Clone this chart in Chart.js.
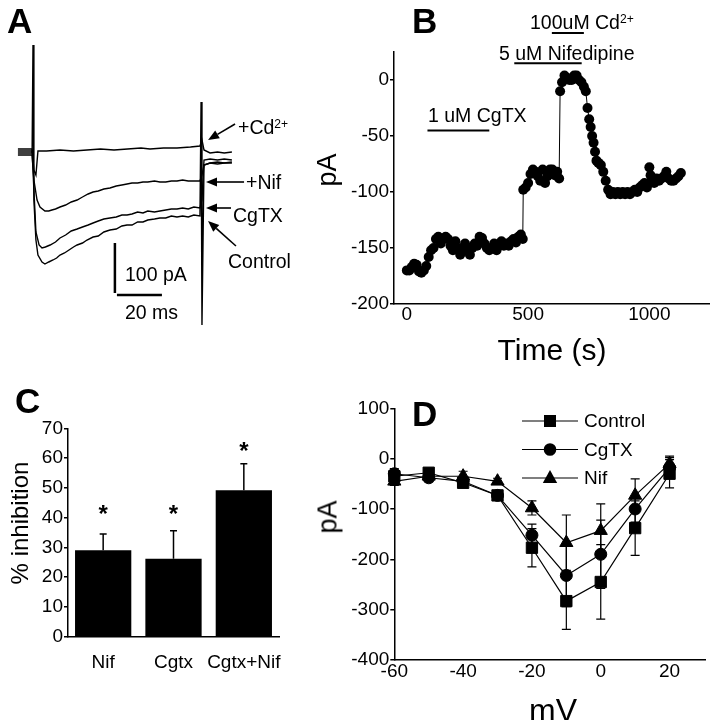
<!DOCTYPE html>
<html>
<head>
<meta charset="utf-8">
<title>Ca2+ current block</title>
<script src="https://cdn.jsdelivr.net/npm/chart.js"></script>
<style>
    body { margin: 0; background: #fff; }
    #fig { position: relative; width: 714px; height: 720px; font-family: "Liberation Sans", Arial, sans-serif; color: #000; overflow: hidden; }
    #fig canvas { position: absolute; }
    /* text labels are centred vertically on their top value */
    .t { position: absolute; white-space: nowrap; line-height: 1; transform: translateY(-50%); font-size: 19.5px; }
    .letter { font-weight: bold; font-size: 35px; }
    .rot { transform: translate(-50%, -50%) rotate(-90deg); }
    .sup { font-size: 0.62em; position: relative; top: -0.5em; }
</style>
</head>
<body>
<div id="fig">
    <canvas id="chartA" width="300" height="340" style="left:0;top:0"></canvas>
    <canvas id="chartB" width="374" height="380" style="left:340px;top:0"></canvas>
    <canvas id="chartC" width="340" height="340" style="left:0;top:380px"></canvas>
    <canvas id="chartD" width="374" height="340" style="left:340px;top:380px"></canvas>

    <!-- panel letters -->
    <div class="t letter" style="left:7px;top:20px">A</div>
    <div class="t letter" style="left:412px;top:20px">B</div>
    <div class="t letter" style="left:15px;top:400px">C</div>
    <div class="t letter" style="left:412px;top:413px">D</div>

    <!-- A labels -->
    <div class="t" style="left:238px;top:128px">+Cd<span class="sup">2+</span></div>
    <div class="t" style="left:246px;top:183px">+Nif</div>
    <div class="t" style="left:233px;top:216px">CgTX</div>
    <div class="t" style="left:228px;top:262px">Control</div>
    <div class="t" style="left:125px;top:275px">100 pA</div>
    <div class="t" style="left:125px;top:313px">20 ms</div>

    <!-- B labels -->
    <div class="t" style="left:428px;top:116px">1 uM CgTX</div>
    <div class="t" style="left:499px;top:54px">5 uM Nifedipine</div>
    <div class="t" style="left:530px;top:23px">100uM Cd<span class="sup">2+</span></div>
    <div class="t rot" style="left:327px;top:170px;font-size:27px">pA</div>
    <div class="t" style="left:552px;top:350px;font-size:30px;transform:translate(-50%,-50%)">Time (s)</div>

    <!-- C / D axis titles -->
    <div class="t rot" style="left:20px;top:523px;font-size:24px">% inhibition</div>
    <div class="t rot" style="left:328px;top:517px;font-size:27px">pA</div>
    <div class="t" style="left:553px;top:710px;font-size:32px;transform:translate(-50%,-50%)">mV</div>
</div>

<script>
    // ---------- Panel A: current traces (time in ms from pulse onset, current in pA) ----------
    const ctrlTime = [-6.7, -0.4, 0, 0.4, 1.3, 2.2, 4, 5.3, 7, 8.9, 10.5, 12, 14, 16, 18, 19.6, 22, 24, 26.7, 29,
        31.5, 34.2, 37, 39.5, 41.8, 44, 46.5, 48.9, 51, 54, 56.4, 59, 61.5, 64, 66.5, 69, 71.5, 74.2, 74.7, 75.1,
        76, 78.7, 82, 85, 88.4];
    const ctrlCurrent = [-2, -2, 214, -96, -176, -206, -220, -224, -220, -216, -212, -206, -202, -196, -190, -186, -182, -176, -170, -168,
        -160, -156, -154, -148, -146, -146, -140, -140, -136, -134, -132, -132, -128, -130, -128, -130, -126, -128, 100, -346,
        -26, -22, -20, -22, -20];

    const cgtxTime = [-6.7, -0.4, 0.4, 1.3, 2.7, 4, 5.5, 7.6, 10, 12, 14.5, 17, 19.6, 22, 24.5, 26.7, 29, 31.5, 34.2, 37,
        39.5, 41.8, 44, 46.5, 48.9, 51, 54, 56.4, 59, 61.5, 64, 66.5, 69, 71.5, 74.2, 75.1, 76, 78.7, 82, 85, 88.4];
    const cgtxCurrent = [2, 2, -76, -160, -186, -192, -190, -186, -180, -172, -166, -158, -154, -150, -146, -142, -138, -134, -132, -130,
        -126, -126, -124, -120, -122, -118, -120, -118, -116, -114, -114, -112, -114, -110, -112, -96, -16, -14, -16, -14, -16];

    const nifTime = [-6.7, -0.4, 0.4, 1.8, 3.1, 5.3, 7, 8.4, 10, 12, 14.5, 17, 19.6, 22, 24.5, 26.7, 29, 31.5, 34.2, 37,
        39.5, 41.8, 44, 46.5, 48.9, 51, 54, 56.4, 59, 61.5, 64, 66.5, 69, 71.5, 74.2, 75.1, 76, 78.7, 82, 85, 88.4];
    const nifCurrent = [-6, -6, -56, -96, -110, -118, -118, -116, -114, -110, -106, -100, -96, -90, -84, -80, -78, -74, -72, -68,
        -66, -64, -62, -62, -60, -60, -58, -60, -60, -58, -58, -56, -58, -58, -58, -46, -26, -22, -24, -22, -22];

    const cdTime = [-6.7, -0.4, 0.4, 1.3, 2.2, 6, 12, 18, 24, 30, 36, 42, 48, 52, 58, 64, 70, 74.2, 75.1, 76, 78.7, 82, 85, 88.4];
    const cdCurrent = [6, 6, -36, -46, 2, 2, 4, 2, 4, 6, 4, 6, 8, 6, 8, 8, 10, 12, 24, 4, -2, 0, -2, 0];

    // scale bars: 100 pA and 20 ms
    const vBarTime = [36.4, 36.4];
    const vBarCurrent = [-182, -282];
    const hBarTime = [37.3, 57.3];
    const hBarCurrent = [-286, -286];

    // label arrows (tail -> tip), in ms / pA
    const arrowTails = [[89.8, 56], [93.8, -60], [88, -112], [90.2, -188]];
    const arrowTips = [[77.8, 24], [76.9, -60], [76.9, -112], [77.8, -138]];

    // ---------- Panel B: current vs time ----------
    const bTime = [0, 10, 20, 30, 40, 50, 60, 70, 80, 90,
        100, 110, 120, 130, 140, 150, 160, 170, 180, 190,
        200, 210, 220, 230, 240, 250, 260, 270, 280, 290,
        300, 310, 320, 330, 340, 350, 360, 370, 380, 390,
        400, 410, 420, 430, 440, 450, 460, 470, 478, 480,
        490, 500, 510, 520, 530, 540, 550, 560, 570, 580,
        590, 600, 610, 620, 628, 632, 640, 650, 660, 670,
        680, 690, 700, 710, 720, 730, 738, 745, 752, 758,
        764, 770, 776, 782, 790, 800, 810, 820, 830, 840,
        850, 860, 870, 880, 890, 900, 910, 920, 930, 940,
        950, 960, 970, 980, 990, 1000, 1005, 1010, 1020, 1030,
        1040, 1050, 1060, 1070, 1080, 1090, 1100, 1110, 1120, 1130];
    const bCurrent = [-170, -170, -167, -164, -165, -171, -172, -170, -166, -158,
        -152, -150, -142, -140, -146, -142, -140, -142, -148, -152,
        -144, -150, -156, -152, -146, -150, -156, -150, -146, -148,
        -140, -141, -146, -150, -152, -150, -146, -152, -148, -144,
        -148, -146, -148, -144, -142, -145, -140, -138, -142, -98,
        -96, -92, -84, -80, -82, -86, -90, -80, -92, -86,
        -80, -80, -85, -82, -88, -10, -2, 4, 2, 0,
        0, 4, 4, 0, -2, -6, -10, -25, -35, -42,
        -50, -56, -64, -72, -74, -76, -82, -90, -98, -102,
        -100, -102, -100, -102, -100, -102, -100, -102, -100, -98,
        -100, -96, -94, -92, -96, -78, -85, -90, -92, -88,
        -90, -88, -86, -82, -88, -90, -90, -88, -86, -83];
    const bXTicks = [0, 500, 1000];
    const bYTicks = [-200, -150, -100, -50, 0];

    // drug application bars: CgTX, nifedipine, Cd2+
    const drugStart = [85, 443, 598];
    const drugEnd = [340, 721, 730];
    const drugLevel = [-45, 15, 42];

    // ---------- Panel C: % inhibition ----------
    const cLabels = ['Nif', 'Cgtx', 'Cgtx+Nif'];
    const cMean = [29, 26.2, 49.2];
    const cErr = [5.5, 9.4, 8.9];
    const cSig = ['*', '*', '*'];
    const cSigLevel = [42.5, 42.5, 63.5];

    // ---------- Panel D: I-V relation ----------
    const mV = [-60, -50, -40, -30, -20, -10, 0, 10, 20];
    const ivControl = [-35, -28, -48, -73, -177, -283, -245, -138, -30];
    const ivControlErr = [10, 8, 8, 6, 38, 56, 74, 54, 28];
    const ivCgtx = [-30, -38, -45, -73, -152, -232, -190, -100, -18];
    const ivCgtxErr = [10, 8, 8, 6, 22, 62, 68, 26, 20];
    const ivNif = [-45, -35, -35, -45, -98, -167, -143, -73, -10];
    const ivNifErr = [8, 6, 10, 6, 14, 55, 53, 33, 15];
    const dXTicks = [-60, -40, -20, 0, 20];
    const dYTicks = [-400, -300, -200, -100, 0, 100];

    const FONT = '"Liberation Sans", Arial, sans-serif';
    const xy = (xs, ys) => xs.map((x, i) => ({ x: x, y: ys[i] }));
    const noExtras = { legend: { display: false }, tooltip: { enabled: false } };
    const plain = v => String(v);   // no thousands separator

    function tickFont(padding, extra) {
        return Object.assign({ color: '#000', font: { family: FONT, size: 19, lineHeight: 1 }, padding: padding, callback: plain }, extra);
    }

    function axis(opts) {
        // black axis line, small outward ticks, no gridlines
        return Object.assign({
            border: { display: true, color: '#000', width: 1.5 },
            grid: { display: true, drawOnChartArea: false, drawTicks: true, tickLength: 4, color: '#000', lineWidth: 1.5 },
            ticks: tickFont(1)
        }, opts);
    }

    // ---- A ----
    function trace(t, i, w) {
        return { data: xy(t, i), showLine: true, borderColor: '#000', borderWidth: w || 1.4, pointRadius: 0, tension: 0 };
    }

    const arrowPlugin = {
        id: 'arrows',
        afterDatasetsDraw(chart) {
            const ctx = chart.ctx, sx = chart.scales.x, sy = chart.scales.y;
            ctx.save();
            ctx.strokeStyle = '#000';
            ctx.fillStyle = '#000';
            ctx.lineWidth = 1.6;
            arrowTails.forEach((tail, k) => {
                const x0 = sx.getPixelForValue(tail[0]), y0 = sy.getPixelForValue(tail[1]);
                const x1 = sx.getPixelForValue(arrowTips[k][0]), y1 = sy.getPixelForValue(arrowTips[k][1]);
                const a = Math.atan2(y1 - y0, x1 - x0);
                const head = 11, half = 4.5;
                const bx = x1 - head * Math.cos(a), by = y1 - head * Math.sin(a);
                ctx.beginPath();
                ctx.moveTo(x0, y0);
                ctx.lineTo(bx, by);
                ctx.stroke();
                ctx.beginPath();
                ctx.moveTo(x1, y1);
                ctx.lineTo(bx + half * Math.sin(a), by - half * Math.cos(a));
                ctx.lineTo(bx - half * Math.sin(a), by + half * Math.cos(a));
                ctx.closePath();
                ctx.fill();
            });
            ctx.restore();
        }
    };

    new Chart(document.getElementById('chartA'), {
        type: 'scatter',
        data: {
            datasets: [
                trace(cdTime, cdCurrent),
                trace(nifTime, nifCurrent),
                trace(cgtxTime, cgtxCurrent),
                trace(ctrlTime, ctrlCurrent),
                trace(vBarTime, vBarCurrent, 2.5),
                trace(hBarTime, hBarCurrent, 2.5)
            ]
        },
        options: {
            responsive: false,
            animation: false,
            layout: { padding: 0 },
            plugins: noExtras,
            scales: {
                x: { type: 'linear', display: false, min: -14.667, max: 118.667 },
                y: { display: false, min: -376, max: 304 }
            }
        },
        plugins: [arrowPlugin]
    });

    // ---- B ----
    const drugSets = drugStart.map((s, k) => ({
        data: xy([s, drugEnd[k]], [drugLevel[k], drugLevel[k]]),
        showLine: true, borderColor: '#000', borderWidth: 2, pointRadius: 0, clip: false
    }));

    new Chart(document.getElementById('chartB'), {
        type: 'scatter',
        data: {
            datasets: [{
                data: xy(bTime, bCurrent),
                showLine: true,
                borderColor: '#000',
                borderWidth: 1,
                pointRadius: 5,
                pointBackgroundColor: '#000',
                pointBorderColor: '#000',
                pointBorderWidth: 0,
                clip: false
            }].concat(drugSets)
        },
        options: {
            responsive: false,
            animation: false,
            layout: { padding: { left: 0, top: 52, right: 3, bottom: 46 } },
            plugins: noExtras,
            scales: {
                x: axis({
                    type: 'linear', min: -53, max: 1246,
                    grid: { display: false, drawTicks: false },
                    ticks: tickFont(1),
                    afterBuildTicks: s => { s.ticks = bXTicks.map(v => ({ value: v })); },
                    afterFit: s => { s.height = 30; }
                }),
                y: axis({
                    min: -200, max: 25,
                    afterBuildTicks: s => { s.ticks = bYTicks.map(v => ({ value: v })); },
                    afterFit: s => { s.width = 54; }
                })
            }
        }
    });

    // ---- C ----
    const cErrorPlugin = {
        id: 'cErrors',
        afterDatasetsDraw(chart) {
            const ctx = chart.ctx, sy = chart.scales.y;
            const meta = chart.getDatasetMeta(0);
            ctx.save();
            ctx.strokeStyle = '#000';
            ctx.fillStyle = '#000';
            ctx.lineWidth = 1.5;
            ctx.font = 'bold 24px ' + FONT;
            ctx.textAlign = 'center';
            ctx.textBaseline = 'middle';
            meta.data.forEach((bar, k) => {
                const top = sy.getPixelForValue(cMean[k] + cErr[k]);
                ctx.beginPath();
                ctx.moveTo(bar.x, bar.y);
                ctx.lineTo(bar.x, top);
                ctx.moveTo(bar.x - 3.5, top);
                ctx.lineTo(bar.x + 3.5, top);
                ctx.stroke();
                ctx.fillText(cSig[k], bar.x, sy.getPixelForValue(cSigLevel[k]) + 5);
            });
            ctx.restore();
        }
    };

    new Chart(document.getElementById('chartC'), {
        type: 'bar',
        data: {
            labels: cLabels,
            datasets: [{ data: cMean, backgroundColor: '#000', borderWidth: 0, barPercentage: 0.8, categoryPercentage: 1 }]
        },
        options: {
            responsive: false,
            animation: false,
            layout: { padding: { left: 0, top: 48.3, right: 61, bottom: 43.3 } },
            plugins: noExtras,
            scales: {
                x: axis({
                    grid: { display: false, drawTicks: false },
                    ticks: { color: '#000', font: { family: FONT, size: 19, lineHeight: 1 }, padding: 17,
                        maxRotation: 0, minRotation: 0, autoSkip: false },
                    afterFit: s => { s.height = 40; }
                }),
                y: axis({
                    min: 0, max: 70,
                    ticks: tickFont(1, { stepSize: 10 }),
                    afterFit: s => { s.width = 68; }
                })
            }
        },
        plugins: [cErrorPlugin]
    });

    // ---- D ----
    function drawMarker(ctx, style, x, y) {
        ctx.beginPath();
        if (style === 'rect') {
            ctx.rect(x - 6, y - 6, 12, 12);
        } else if (style === 'circle') {
            ctx.arc(x, y, 6.3, 0, Math.PI * 2);
        } else {
            ctx.moveTo(x, y - 8);
            ctx.lineTo(x + 7.2, y + 5);
            ctx.lineTo(x - 7.2, y + 5);
            ctx.closePath();
        }
        ctx.fill();
    }

    const dPlugin = {
        id: 'dExtras',
        beforeDatasetsDraw(chart) {
            // error bars under the markers
            const ctx = chart.ctx, sy = chart.scales.y;
            ctx.save();
            ctx.strokeStyle = '#000';
            ctx.lineWidth = 1.2;
            chart.data.datasets.forEach((ds, k) => {
                chart.getDatasetMeta(k).data.forEach((pt, j) => {
                    const v = ds.data[j].y, e = ds.errors[j];
                    const y0 = sy.getPixelForValue(v + e), y1 = sy.getPixelForValue(v - e);
                    ctx.beginPath();
                    ctx.moveTo(pt.x, y0); ctx.lineTo(pt.x, y1);
                    ctx.moveTo(pt.x - 4.5, y0); ctx.lineTo(pt.x + 4.5, y0);
                    ctx.moveTo(pt.x - 4.5, y1); ctx.lineTo(pt.x + 4.5, y1);
                    ctx.stroke();
                });
            });
            ctx.restore();
        },
        afterDraw(chart) {
            // legend: line - marker - line, then label
            const ctx = chart.ctx;
            ctx.save();
            ctx.strokeStyle = '#000';
            ctx.fillStyle = '#000';
            ctx.lineWidth = 1.2;
            ctx.font = '19px ' + FONT;
            ctx.textBaseline = 'middle';
            chart.data.datasets.forEach((ds, k) => {
                const y = 41 + k * 28.5;
                ctx.beginPath();
                ctx.moveTo(182, y);
                ctx.lineTo(238, y);
                ctx.stroke();
                drawMarker(ctx, ds.pointStyle, 210, y);
                ctx.fillText(ds.label, 244, y + 1);
            });
            ctx.restore();
        }
    };

    function ivSet(label, values, errors, style, radius) {
        return {
            label: label,
            data: xy(mV, values),
            errors: errors,
            borderColor: '#000',
            borderWidth: 1.2,
            pointStyle: style,
            pointRadius: radius,
            pointBackgroundColor: '#000',
            pointBorderColor: '#000',
            pointBorderWidth: 1,
            tension: 0,
            clip: false
        };
    }

    new Chart(document.getElementById('chartD'), {
        type: 'line',
        data: {
            datasets: [
                ivSet('Control', ivControl, ivControlErr, 'rect', 8),
                ivSet('CgTX', ivCgtx, ivCgtxErr, 'circle', 6),
                ivSet('Nif', ivNif, ivNifErr, 'triangle', 7.6)
            ]
        },
        options: {
            responsive: false,
            animation: false,
            layout: { padding: { left: 0, top: 28.3, right: 5, bottom: 30 } },
            plugins: noExtras,
            scales: {
                x: axis({
                    type: 'linear', min: -60, max: 30.3,
                    grid: { display: false, drawTicks: false },
                    ticks: tickFont(2),
                    afterBuildTicks: s => { s.ticks = dXTicks.map(v => ({ value: v })); },
                    afterFit: s => { s.height = 30; }
                }),
                y: axis({
                    min: -400, max: 100,
                    afterBuildTicks: s => { s.ticks = dYTicks.map(v => ({ value: v })); },
                    afterFit: s => { s.width = 54.3; }
                })
            }
        },
        plugins: [dPlugin]
    });
</script>
</body>
</html>
